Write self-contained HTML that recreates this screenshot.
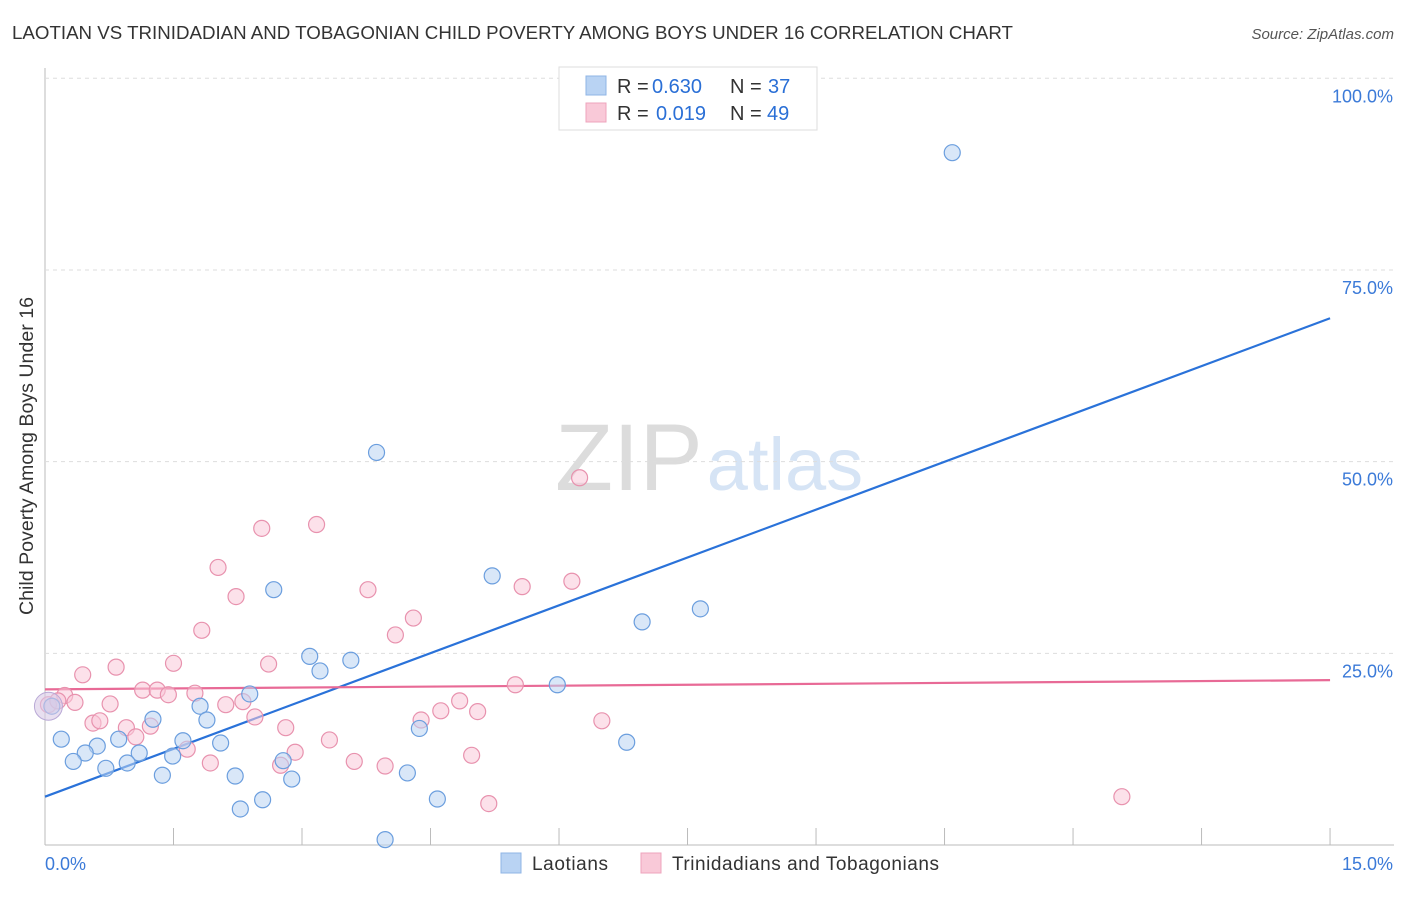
<!DOCTYPE html>
<html><head><meta charset="utf-8"><style>
body{margin:0;background:#fff;font-family:"Liberation Sans",sans-serif}
svg text{font-family:"Liberation Sans",sans-serif}
</style></head><body>
<svg id="c" width="1406" height="892" xmlns="http://www.w3.org/2000/svg">
<text x="12" y="39" font-size="18" fill="#333" textLength="1001" lengthAdjust="spacingAndGlyphs">LAOTIAN VS TRINIDADIAN AND TOBAGONIAN CHILD POVERTY AMONG BOYS UNDER 16 CORRELATION CHART</text>
<text x="1394" y="39" font-size="15" fill="#555" font-style="italic" text-anchor="end">Source: ZipAtlas.com</text>
<text x="555" y="490" font-size="95" fill="#e4e4e4" font-family="Liberation Serif"><tspan fill="#dcdcdc">ZIP</tspan><tspan fill="#d6e4f5" font-family="Liberation Sans" font-size="74" dx="4">atlas</tspan></text>
<text transform="translate(33,456) rotate(-90)" font-size="19" fill="#333" text-anchor="middle" textLength="318" lengthAdjust="spacingAndGlyphs">Child Poverty Among Boys Under 16</text>
<g id="grid"></g><g id="lines"></g><g id="pts"></g>
<g>
<rect x="559" y="67" width="258" height="63" fill="#fff" stroke="#ddd"/>
<rect x="586" y="76" width="20" height="19" fill="#b9d3f3" stroke="#8fb5e6"/>
<rect x="586" y="103" width="20" height="19" fill="#f9c9d8" stroke="#eea4bc"/>
<text x="617" y="93" font-size="20" fill="#333">R =</text>
<text x="652" y="93" font-size="20" fill="#2a6fd6">0.630</text>
<text x="730" y="93" font-size="20" fill="#333">N =</text>
<text x="768" y="93" font-size="20" fill="#2a6fd6">37</text>
<text x="617" y="120" font-size="20" fill="#333">R =</text>
<text x="656" y="120" font-size="20" fill="#2a6fd6">0.019</text>
<text x="730" y="120" font-size="20" fill="#333">N =</text>
<text x="767" y="120" font-size="20" fill="#2a6fd6">49</text>
</g>
<g>
<rect x="501" y="853" width="20" height="20" fill="#b9d3f3" stroke="#8fb5e6"/>
<text x="532" y="870" font-size="19" fill="#333" textLength="76">Laotians</text>
<rect x="641" y="853" width="20" height="20" fill="#f9c9d8" stroke="#eea4bc"/>
<text x="672" y="870" font-size="19" fill="#333" textLength="267">Trinidadians and Tobagonians</text>
</g>
</svg>
<script>
const xTicks=[0,1.5,3,4.5,6,7.5,9,10.5,12,13.5,15];
const yTicks=[25,50,75,100];
const blueX=[10.59,3.87,5.22,7.65,6.97,2.67,3.09,3.57,3.21,5.98,2.39,1.81,1.26,1.89,0.19,0.86,1.61,2.05,0.61,0.47,1.10,1.49,0.33,0.96,0.71,4.37,6.79,2.78,2.22,1.37,2.88,4.23,2.54,2.28,4.58,3.97,0.08];
const blueY=[90.3,51.2,35.1,30.8,29.1,33.3,24.6,24.1,22.7,20.9,19.7,18.1,16.4,16.3,13.8,13.8,13.6,13.3,12.9,12.0,12.0,11.6,10.9,10.7,10.0,15.2,13.4,11.0,9.0,9.1,8.6,9.4,5.9,4.7,6.0,0.7,18.1];
const pinkX=[6.24,3.17,2.53,2.02,2.23,3.77,5.57,6.15,4.30,1.83,4.09,0.83,1.50,0.44,2.61,1.14,1.31,1.44,1.75,0.23,0.35,0.76,2.11,2.31,4.84,5.49,5.05,4.62,4.39,2.45,6.50,0.56,0.64,0.95,1.23,2.81,1.06,3.32,1.66,2.92,1.93,2.75,3.61,3.97,4.98,5.18,12.57,0.04,0.15];
const pinkY=[47.9,41.8,41.3,36.2,32.4,33.3,33.7,34.4,29.6,28.0,27.4,23.2,23.7,22.2,23.6,20.2,20.2,19.6,19.8,19.5,18.6,18.4,18.3,18.7,18.8,20.9,17.4,17.5,16.3,16.7,16.2,15.9,16.2,15.3,15.5,15.3,14.1,13.7,12.5,12.1,10.7,10.4,10.9,10.3,11.7,5.4,6.3,18.3,18.8];
const lineX=[0,15];
const blueLineY=[6.3,68.7];
const pinkLineY=[20.3,21.5];
const NS="http://www.w3.org/2000/svg";
const X=v=>45+v*85.67, Y=v=>845-v*7.667;
function mk(t,a,p){const e=document.createElementNS(NS,t);for(const k in a)e.setAttribute(k,a[k]);document.getElementById(p).appendChild(e);return e;}
let ax=mk('line',{x1:45,x2:45,y1:68,y2:845,stroke:'#bbb'},'grid');


let bx=mk('line',{x1:45,x2:1394,y1:845,y2:845,stroke:'#bbb'},'grid');


xTicks.forEach(t=>{const l=mk('line',{x1:X(t),x2:X(t),y1:828,y2:845,stroke:'#bbb'},'grid');

});
yTicks.forEach(t=>{const l=mk('line',{x1:45,x2:1394,y1:Y(t),y2:Y(t),stroke:'#ddd','stroke-dasharray':'4,4'},'grid');


const tx=mk('text',{x:1393,y:Y(t)+24,'font-size':18,fill:'#3b7ad8','text-anchor':'end'},'grid');tx.textContent=t.toFixed(1)+'%';

});
[[0,'start',45],[15,'end',1393]].forEach(([v,a,x])=>{const tx=mk('text',{x:x,y:870,'font-size':18,fill:'#3b7ad8','text-anchor':a},'grid');tx.textContent=v.toFixed(1)+'%';

});
function pts(xs,ys,fill,stroke,name){xs.forEach((x,i)=>{const c=mk('circle',{cx:X(x),cy:Y(ys[i]),r:8,fill:fill,'fill-opacity':0.55,stroke:stroke,'stroke-width':1.2},'pts');

});}
pts(pinkX,pinkY,'#f9c9d8','#e892ae','pink-point');
pts(blueX,blueY,'#b9d3f3','#6b9ede','blue-point');
const big=mk('circle',{cx:X(0.04),cy:Y(18.1),r:14,fill:'#d9c9e6','fill-opacity':0.6,stroke:'#b9a9d6'},'pts');


const bl=mk('line',{x1:X(lineX[0]),y1:Y(blueLineY[0]),x2:X(lineX[1]),y2:Y(blueLineY[1]),stroke:'#2a72d9','stroke-width':2.2},'lines');


const pl=mk('line',{x1:X(lineX[0]),y1:Y(pinkLineY[0]),x2:X(lineX[1]),y2:Y(pinkLineY[1]),stroke:'#e86a96','stroke-width':2.2},'lines');


</script>
</body></html>
